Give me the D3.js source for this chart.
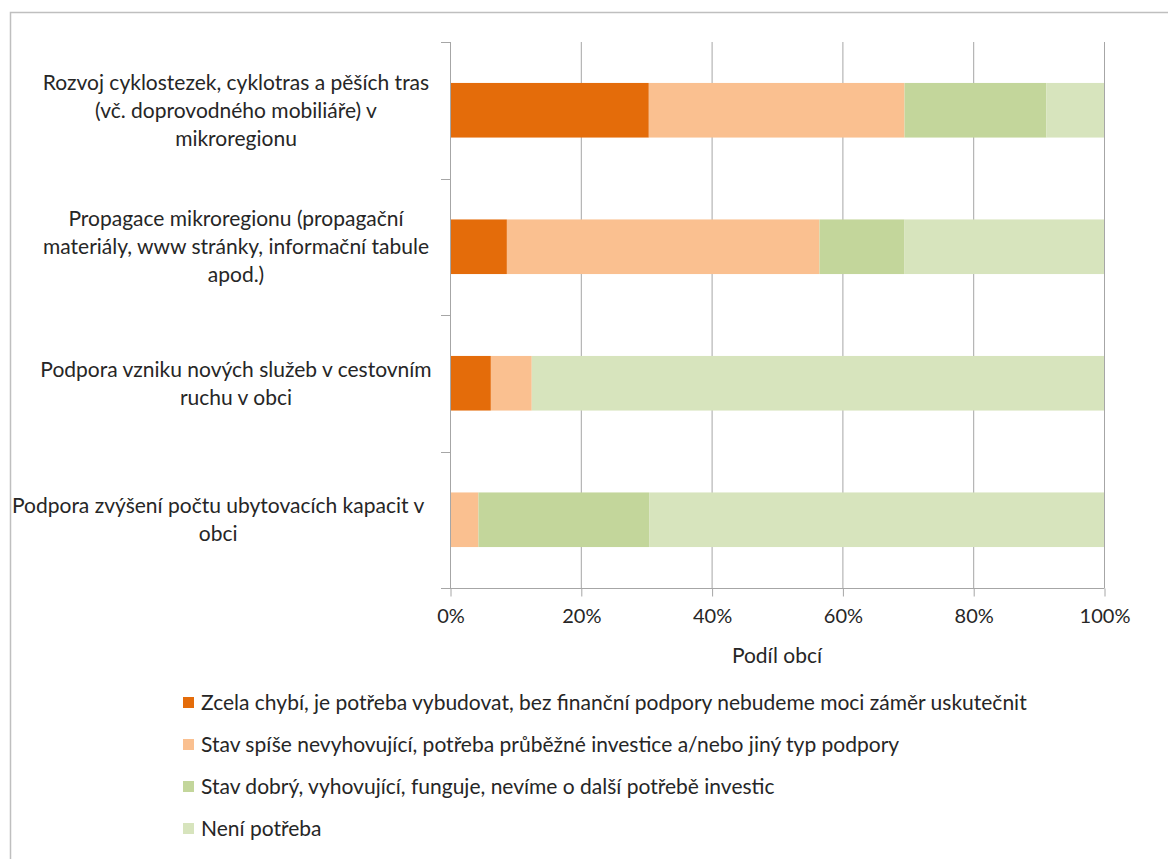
<!DOCTYPE html>
<html><head><meta charset="utf-8">
<script src="https://cdn.jsdelivr.net/npm/d3@7"></script>
<style>
html,body{margin:0;padding:0;background:#fff;}
text{font-family:Lato,"Open Sans",sans-serif;fill:#262626;}
</style></head>
<body>
<svg id="c" width="1168" height="859"></svg>
<script>
const categories = [
  "Rozvoj cyklostezek, cyklotras a pěších tras\n(vč. doprovodného mobiliáře) v\nmikroregionu",
  "Propagace mikroregionu (propagační\nmateriály, www stránky, informační tabule\napod.)",
  "Podpora vzniku nových služeb v cestovním\nruchu v obci",
  "Podpora zvýšení počtu ubytovacích kapacit v\nobci"
];
const seriesNames = [
  "Zcela chybí, je potřeba vybudovat, bez finanční podpory nebudeme moci záměr uskutečnit",
  "Stav spíše nevyhovující, potřeba průběžné investice a/nebo jiný typ podpory",
  "Stav dobrý, vyhovující, funguje, nevíme o další potřebě investic",
  "Není potřeba"
];
const zcelaChybi   = [30.4, 8.7, 6.25, 0];
const spiseNevyhov = [39.1, 47.8, 6.25, 4.35];
const stavDobry    = [21.7, 13.0, 0, 26.1];
const neniPotreba  = [8.8, 30.5, 87.5, 69.55];
const colors = ["#E46C0A", "#FAC090", "#C3D69B", "#D7E4BD"];
const xTicks = [0, 20, 40, 60, 80, 100];
const xTitle = "Podíl obcí";

const seriesValues = [zcelaChybi, spiseNevyhov, stavDobry, neniPotreba];
const svg = d3.select("#c");
const FS = 21;

// outer border
svg.append("rect").attr("x", 10.5).attr("y", 12.5).attr("width", 1200).attr("height", 900)
  .attr("fill", "none").attr("stroke", "#bfbfbf").attr("stroke-width", 1.5);

const pLeft = 450, pRight = 1104, pTop = 42, pBottom = 588;
const x = d3.scaleLinear().domain([0, 100]).range([pLeft, pRight]);
const y = d3.scaleBand().domain(categories).range([pTop, pBottom]).paddingInner(0.6).paddingOuter(0.3);
const yb = d3.scaleBand().domain(categories).range([pTop, pBottom]);

// gridlines
svg.append("g").selectAll("line").data(xTicks.slice(1)).join("line")
  .attr("x1", d => x(d) + 0.5).attr("x2", d => x(d) + 0.5)
  .attr("y1", pTop).attr("y2", pBottom)
  .attr("stroke", "#a6a6a6").attr("stroke-width", 1);

// stacked bars
const rows = categories.map((c, i) => {
  let acc = 0;
  return seriesValues.map((s, k) => { const v = s[i]; const r = {cat: c, k, x0: acc, x1: acc + v}; acc += v; return r; });
}).flat();
svg.append("g").selectAll("rect").data(rows.filter(r => r.x1 > r.x0)).join("rect")
  .attr("x", d => x(d.x0)).attr("width", d => x(d.x1) - x(d.x0))
  .attr("y", d => y(d.cat)).attr("height", y.bandwidth())
  .attr("fill", d => colors[d.k]);

// x axis
const xAxis = svg.append("g").attr("transform", `translate(0.5,${pBottom + 0.5})`)
  .call(d3.axisBottom(x).tickValues(xTicks).tickFormat(d => d + "%").tickSize(8).tickPadding(12));
xAxis.select(".domain").attr("stroke", "#a6a6a6").attr("d", `M${pLeft - 9},0H${pRight}`);
xAxis.selectAll(".tick line").attr("stroke", "#a6a6a6");
xAxis.selectAll(".tick text").attr("font-size", 20).attr("fill", "#262626").style("font-family", "Lato,'Open Sans',sans-serif");

// y axis line and ticks at category boundaries
const g = svg.append("g");
g.append("line").attr("x1", pLeft + 0.5).attr("x2", pLeft + 0.5).attr("y1", pTop).attr("y2", pBottom)
  .attr("stroke", "#a6a6a6");
const bounds = categories.map(c => yb(c)).concat([pBottom]);
g.selectAll("line.t").data(bounds).join("line").attr("class", "t")
  .attr("x1", pLeft - 9).attr("x2", pLeft).attr("y1", d => Math.round(d) + 0.5).attr("y2", d => Math.round(d) + 0.5)
  .attr("stroke", "#a6a6a6");

// category labels
const lh = 28;
categories.forEach(c => {
  const lines = c.split("\n");
  const cy = y(c) + y.bandwidth() / 2;
  const t = svg.append("text").attr("text-anchor", "middle").attr("font-size", FS);
  const spans = lines.map((ln, j) =>
    t.append("tspan").attr("x", 236).attr("y", cy + (j - (lines.length - 1) / 2) * lh).attr("dy", "0.35em").text(ln));
  const w = d3.max(spans, s => s.node().getComputedTextLength());
  if (w > 400) spans.forEach(s => s.attr("x", 12 + w / 2));
});

// axis title
svg.append("text").attr("x", 777).attr("y", 656).attr("dy", "0.35em").attr("text-anchor", "middle")
  .attr("font-size", FS).text(xTitle);

// legend
const lg = svg.append("g").selectAll("g").data(seriesNames).join("g")
  .attr("transform", (d, i) => `translate(183,${703 + i * 42})`);
lg.append("rect").attr("x", 0).attr("y", -6).attr("width", 11).attr("height", 11).attr("fill", (d, i) => colors[i]);
lg.append("text").attr("x", 18).attr("y", 0).attr("dy", "0.35em").attr("font-size", FS).text(d => d);
</script>
</body></html>
